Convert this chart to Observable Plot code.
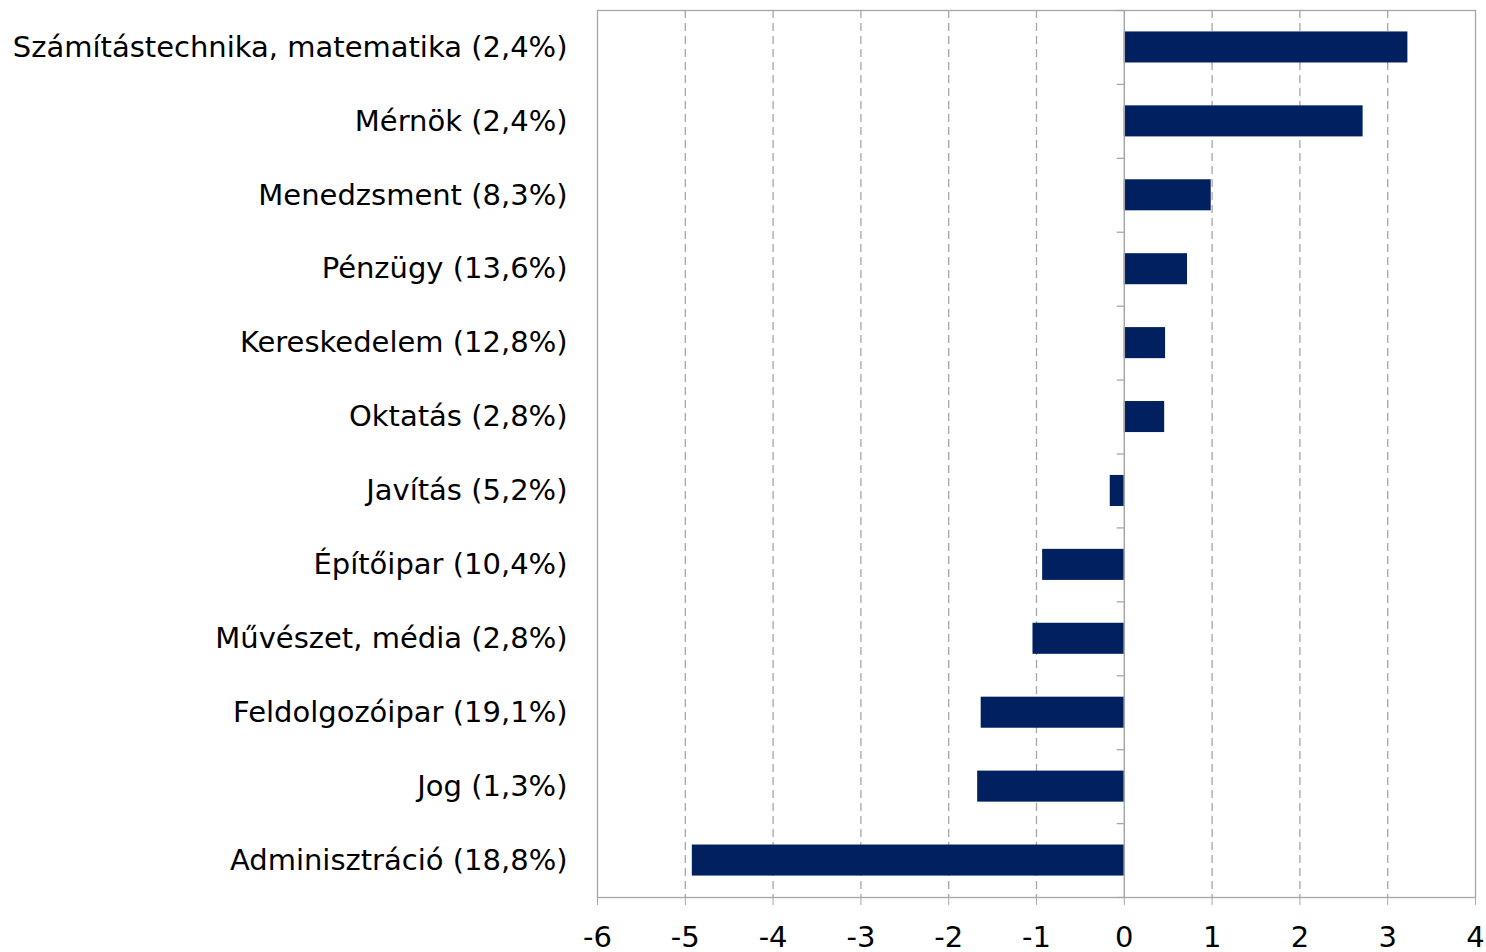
<!DOCTYPE html>
<html><head><meta charset="utf-8">
<script src="https://cdn.jsdelivr.net/npm/d3@7"></script>
<script src="https://cdn.jsdelivr.net/npm/@observablehq/plot@0.6"></script>
<style>body{margin:0;background:#fff;} #chart{width:1486px;height:952px;overflow:hidden;}</style>
</head><body><div id="chart"></div>
<script>
const categories = [
  "Számítástechnika, matematika (2,4%)",
  "Mérnök (2,4%)",
  "Menedzsment (8,3%)",
  "Pénzügy (13,6%)",
  "Kereskedelem (12,8%)",
  "Oktatás (2,8%)",
  "Javítás (5,2%)",
  "Építőipar (10,4%)",
  "Művészet, média (2,8%)",
  "Feldolgozóipar (19,1%)",
  "Jog (1,3%)",
  "Adminisztráció (18,8%)"
];
const values = [3.23, 2.72, 0.99, 0.72, 0.47, 0.46, -0.16, -0.93, -1.04, -1.63, -1.67, -4.92];
const xTicks = [-6, -5, -4, -3, -2, -1, 0, 1, 2, 3, 4];

const data = categories.map((c, i) => ({cat: c, value: values[i]}));
const gray = "#a6a6a6";
const step = (952 - 10 - 55) / categories.length;

const chart = Plot.plot({
  width: 1486, height: 952,
  marginLeft: 597, marginRight: 11, marginTop: 10, marginBottom: 55,
  style: {fontFamily: "'DejaVu Sans', sans-serif", fontSize: "29px", color: "#000", background: "#fff"},
  x: {domain: [-6, 4], label: null},
  y: {domain: categories, paddingInner: 0.58, paddingOuter: 0.29, round: false, label: null},
  marks: [
    Plot.ruleX(xTicks.filter(d => d !== 0 && d !== -6 && d !== 4), {stroke: gray, strokeDasharray: "8,5", strokeWidth: 1.3}),
    Plot.frame({stroke: gray, strokeWidth: 1.3}),
    Plot.barX(data, {x: "value", y: "cat", fill: "#002060"}),
    Plot.ruleX([0], {stroke: gray, strokeWidth: 1.5}),
    Plot.ruleY(categories, {y: d => d, x1: -0.08, x2: 0, dy: step / 2, stroke: gray, strokeWidth: 1.3}),
    Plot.ruleY([categories[0]], {y: d => d, x1: -0.08, x2: 0, dy: -step / 2, stroke: gray, strokeWidth: 1.3}),
    Plot.axisX({ticks: xTicks, tickSize: 8, tickPadding: 21, stroke: gray, tickFormat: d => String(d), fontSize: "29px", label: null}),
    Plot.axisY({tickSize: 0, tickPadding: 30, fontSize: "29px", label: null})
  ]
});
document.getElementById("chart").appendChild(chart);
</script>
</body></html>
